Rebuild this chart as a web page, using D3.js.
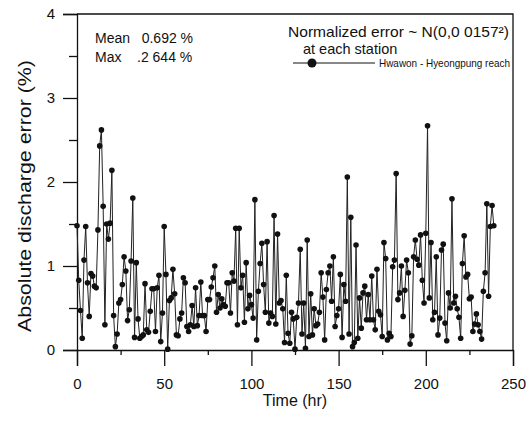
<!DOCTYPE html>
<html>
<head>
<meta charset="utf-8">
<script src="https://d3js.org/d3.v7.min.js"></script>
<style>
  body { margin: 0; background: white; }
  text { font-family: "Liberation Sans", Arial, sans-serif; fill: #111; white-space: pre; }
</style>
</head>
<body>
<div id="chart"></div>
<script>
// SVG Dimensions
const width = 527,
      height = 421;

// Absolute discharge error (%) for each hour, t = 0, 1, 2, ...
const errorValues = [
    1.48, 0.83, 0.47, 0.14, 1.07, 1.47, 0.80, 0.40, 0.91, 0.88, 0.76, 0.74, 1.43, 2.43, 2.62, 1.71, 0.30, 1.50, 1.32, 1.51,
    2.14, 0.41, 0.04, 0.19, 0.56, 0.60, 0.78, 1.11, 0.94, 0.35, 0.48, 1.06, 1.81, 0.15, 1.04, 0.37, 0.14, 0.16, 0.18, 0.79,
    0.24, 0.21, 0.46, 0.73, 0.73, 0.22, 0.74, 0.89, 0.10, 0.44, 1.47, 0.90, 0.01, 0.59, 0.62, 0.96, 0.67, 0.18, 0.17, 0.37,
    0.44, 0.86, 0.80, 0.28, 0.22, 0.30, 0.53, 0.28, 0.74, 0.29, 0.41, 0.81, 0.41, 0.41, 0.22, 0.60, 0.60, 0.75, 0.86, 1.00,
    0.45, 0.66, 0.50, 0.61, 0.54, 0.52, 0.80, 0.80, 0.44, 0.92, 0.82, 1.45, 0.30, 1.45, 0.74, 0.89, 0.33, 1.04, 0.49, 0.65,
    0.54, 0.38, 1.79, 0.12, 0.70, 1.03, 1.27, 0.78, 0.45, 1.29, 0.32, 0.44, 0.40, 1.60, 0.31, 1.38, 0.56, 0.59, 0.49, 0.09,
    0.89, 0.20, 0.08, 0.45, 0.37, 0.01, 0.39, 0.56, 1.20, 0.19, 0.56, 0.02, 1.31, 0.16, 0.67, 0.18, 0.49, 0.29, 0.31, 0.45,
    0.92, 0.63, 0.12, 0.72, 0.92, 1.00, 0.58, 1.11, 0.28, 0.41, 0.49, 0.90, 0.15, 0.78, 0.58, 2.06, 0.19, 1.58, 0.04, 0.09,
    1.25, 0.14, 0.62, 0.26, 0.68, 0.76, 0.36, 0.66, 0.36, 0.88, 0.36, 0.24, 0.96, 0.46, 0.42, 0.16, 1.28, 1.09, 0.12, 0.20,
    0.16, 0.99, 1.07, 2.10, 0.60, 0.68, 1.00, 0.40, 0.71, 1.07, 0.92, 0.07, 0.17, 1.11, 1.31, 1.08, 1.01, 1.37, 0.83, 0.56,
    1.39, 2.67, 0.62, 1.28, 0.36, 0.45, 1.11, 0.18, 0.38, 1.19, 1.26, 0.32, 0.11, 0.68, 0.50, 1.80, 0.56, 0.64, 0.49, 0.39,
    0.14, 1.03, 1.36, 0.87, 0.90, 0.61, 0.63, 0.22, 0.31, 0.43, 0.30, 0.22, 0.13, 0.70, 0.92, 1.74, 0.64, 1.47, 1.72, 1.48
];

// Axis ticks
const xTicks = [0, 50, 100, 150, 200, 250];
const xMinorTicks = [25, 75, 125, 175, 225];
const yTicks = [0, 1, 2, 3, 4];
const yMinorTicks = [0.5, 1.5, 2.5, 3.5];

// Annotation texts
const statLines = ["Mean   0.692 %", "Max    .2 644 %"];
const noteLines = ["Normalized error ~ N(0,0 0157\u00B2)", "at each station"];
const seriesName = "Hwawon - Hyeongpung reach";

function drawChart() {
    const margin = { left: 77, right: 14, top: 14, bottom: 71 };

    const x = d3.scaleLinear()
        .domain([0, 250])
        .range([margin.left, width - margin.right]);
    const y = d3.scaleLinear()
        .domain([0, 4])
        .range([height - margin.bottom, margin.top]);

    const svg = d3.select("#chart").append("svg")
        .attr("width", width)
        .attr("height", height);

    // Frame (top and right edges)
    svg.append("path")
        .attr("d", `M${x(0)},${y(4)}H${x(250)}V${y(0)}`)
        .attr("fill", "none")
        .attr("stroke", "#111")
        .attr("stroke-width", 1.3);

    // Bottom axis
    const xAxis = svg.append("g")
        .attr("transform", `translate(0,${y(0)})`)
        .call(d3.axisBottom(x).tickValues(xTicks).tickSize(16).tickPadding(12).tickFormat(d3.format("d")));
    svg.append("g")
        .attr("transform", `translate(0,${y(0)})`)
        .call(d3.axisBottom(x).tickValues(xMinorTicks).tickSize(5).tickFormat(""))
        .select(".domain").remove();

    // Left axis
    const yAxis = svg.append("g")
        .attr("transform", `translate(${x(0)},0)`)
        .call(d3.axisLeft(y).tickValues(yTicks).tickSize(14).tickPadding(8).tickFormat(d3.format("d")));
    svg.append("g")
        .attr("transform", `translate(${x(0)},0)`)
        .call(d3.axisLeft(y).tickValues(yMinorTicks).tickSize(8).tickFormat(""))
        .select(".domain").remove();

    svg.selectAll(".domain").attr("stroke", "#111").attr("stroke-width", 1.3);
    svg.selectAll(".tick line").attr("stroke", "#111").attr("stroke-width", 1.3);
    xAxis.selectAll("text").style("font-size", "15px").attr("fill", "#111");
    yAxis.selectAll("text").style("font-size", "15px").attr("fill", "#111");

    // Axis titles
    svg.append("text")
        .attr("x", (x(0) + x(250)) / 2)
        .attr("y", 406)
        .attr("text-anchor", "middle")
        .style("font-size", "16px")
        .text("Time (hr)");

    svg.append("text")
        .attr("transform", `translate(31,196) rotate(-90)`)
        .attr("text-anchor", "middle")
        .attr("textLength", 272)
        .attr("lengthAdjust", "spacingAndGlyphs")
        .style("font-size", "18px")
        .text("Absolute discharge error (%)");

    // Series line + markers
    const line = d3.line()
        .x((d, i) => x(i))
        .y(d => y(d));

    svg.append("path")
        .datum(errorValues)
        .attr("d", line)
        .attr("fill", "none")
        .attr("stroke", "#222")
        .attr("stroke-width", 1);

    svg.append("g").selectAll("circle")
        .data(errorValues)
        .join("circle")
        .attr("cx", (d, i) => x(i))
        .attr("cy", d => y(d))
        .attr("r", 2.8)
        .attr("fill", "#111");

    // Mean / Max block
    statLines.forEach((t, i) => {
        svg.append("text")
            .attr("x", 95)
            .attr("y", 43 + i * 19)
            .style("font-size", "14px")
            .text(t);
    });

    // Normalized error note
    svg.append("text")
        .attr("x", 288)
        .attr("y", 37)
        .attr("textLength", 221)
        .attr("lengthAdjust", "spacingAndGlyphs")
        .style("font-size", "14.5px")
        .text(noteLines[0]);
    svg.append("text")
        .attr("x", 303)
        .attr("y", 54)
        .style("font-size", "14.5px")
        .text(noteLines[1]);

    // Legend entry
    const legend = svg.append("g").attr("transform", "translate(293,63)");
    legend.append("line")
        .attr("x1", 0).attr("x2", 82)
        .attr("stroke", "#111")
        .attr("stroke-width", 1);
    legend.append("circle")
        .attr("cx", 19)
        .attr("r", 4.5)
        .attr("fill", "#111");
    legend.append("text")
        .attr("x", 86)
        .attr("y", 4)
        .attr("textLength", 131)
        .attr("lengthAdjust", "spacingAndGlyphs")
        .style("font-size", "10.5px")
        .text(seriesName);
}

// Draw the chart
drawChart();
</script>
</body>
</html>
